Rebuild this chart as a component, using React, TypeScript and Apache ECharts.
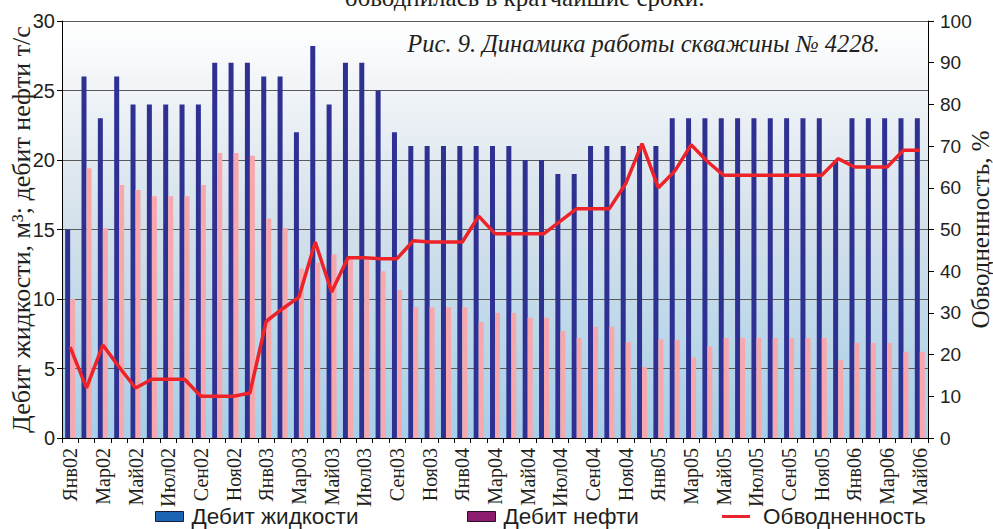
import React, { useEffect, useRef } from "react";
import * as echarts from "echarts";

const months: string[] = [
  "Янв02", "Фев02", "Мар02", "Апр02", "Май02", "Июн02", "Июл02", "Авг02", "Сен02", "Окт02", "Ноя02", "Дек02",
  "Янв03", "Фев03", "Мар03", "Апр03", "Май03", "Июн03", "Июл03", "Авг03", "Сен03", "Окт03", "Ноя03", "Дек03",
  "Янв04", "Фев04", "Мар04", "Апр04", "Май04", "Июн04", "Июл04", "Авг04", "Сен04", "Окт04", "Ноя04", "Дек04",
  "Янв05", "Фев05", "Мар05", "Апр05", "Май05", "Июн05", "Июл05", "Авг05", "Сен05", "Окт05", "Ноя05", "Дек05",
  "Янв06", "Фев06", "Мар06", "Апр06", "Май06",
];

const liquidRate: number[] = [
  15, 26, 23, 26, 24, 24, 24, 24, 24, 27, 27, 27,
  26, 26, 22, 28.2, 24, 27, 27, 25, 22, 21, 21, 21,
  21, 21, 21, 21, 20, 20, 19, 19, 21, 21, 21, 21,
  21, 23, 23, 23, 23, 23, 23, 23, 23, 23, 23, 20,
  23, 23, 23, 23, 23,
];

const oilRate: number[] = [
  10, 19.4, 15.1, 18.2, 17.85, 17.4, 17.4, 17.4, 18.2, 20.5, 20.5, 20.3,
  15.8, 15.1, 12.2, 12.6, 13.2, 13, 12.8, 12, 10.65, 9.4, 9.4, 9.4,
  9.4, 8.35, 9, 9, 8.65, 8.65, 7.7, 7.2, 8, 8, 6.9, 5.1,
  7.1, 7.05, 5.8, 6.6, 7.2, 7.2, 7.2, 7.2, 7.2, 7.2, 7.2, 5.6,
  6.85, 6.85, 6.85, 6.2, 6.2,
];

const waterCut: number[] = [
  21.8, 12, 22.3, 17, 12, 14.1, 14.1, 14.1, 10, 10, 10, 10.8,
  28, 31, 33.8, 47, 35, 43.2, 43.2, 43, 43, 47.3, 47, 47,
  47, 53.2, 49, 49, 49, 49, 52, 55, 55, 55, 61, 70.6,
  60, 64, 70.3, 66.3, 63, 63, 63, 63, 63, 63, 63, 67,
  65, 65, 65, 69, 69,
];

const seriesNames = ["Дебит жидкости", "Дебит нефти", "Обводненность"];
const leftAxisName = "Дебит жидкости, м³; дебит нефти т/с";
const rightAxisName = "Обводненность, %";
const titleText = "Рис. 9. Динамика работы скважины № 4228.";
const topText = "обводнилась в кратчайшие сроки.";

const SANS = '"Liberation Sans", Arial, sans-serif';
const SERIF = '"Liberation Serif", "Times New Roman", serif';
const TEXT = "#231f20";

export default function App() {
  const ref = useRef<HTMLDivElement>(null);

  useEffect(() => {
    if (!ref.current) return;
    const chart = echarts.init(ref.current, null, { renderer: "svg" });
    const legendBase = {
      top: 505,
      padding: 0,
      itemWidth: 28,
      itemHeight: 10,
      textStyle: { fontFamily: SANS, fontSize: 22.5, color: TEXT, padding: [0, 0, 0, 3] },
      selectedMode: false,
    };
    chart.setOption({
      animation: false,
      backgroundColor: "#ffffff",
      grid: {
        left: 62,
        right: 65,
        top: 21,
        bottom: 91,
        containLabel: false,
        outerBoundsMode: "none",
        show: true,
        borderWidth: 0,
        backgroundColor: new echarts.graphic.LinearGradient(0, 0, 0, 1, [
          { offset: 0, color: "#ffffff" },
          { offset: 0.15, color: "#f2f5f8" },
          { offset: 0.5, color: "#d3e0ea" },
          { offset: 1, color: "#a6cfe9" },
        ]),
      },
      graphic: [
        {
          type: "text",
          right: 113,
          top: 31,
          style: { text: titleText, font: `italic 24.5px ${SERIF}`, fill: TEXT },
        },
        {
          type: "text",
          left: 345,
          top: -15,
          style: { text: topText, font: `25px ${SERIF}`, fill: TEXT },
        },
      ],
      legend: [
        {
          ...legendBase,
          left: 155,
          data: [{ name: seriesNames[0], icon: "rect", itemStyle: { color: "#1d63b4", borderColor: "#1b1b3a", borderWidth: 1 } }],
        },
        {
          ...legendBase,
          left: 467,
          data: [{ name: seriesNames[1], icon: "rect", itemStyle: { color: "#8c1c6e", borderColor: "#2a1025", borderWidth: 1 } }],
        },
        {
          ...legendBase,
          left: 722,
          itemHeight: 3,
          textStyle: { ...legendBase.textStyle, padding: [0, 0, 0, 8] },
          data: [{ name: seriesNames[2], icon: "rect", itemStyle: { color: "#ee2229" } }],
        },
      ],
      xAxis: {
        type: "category",
        data: months,
        boundaryGap: true,
        axisLine: { lineStyle: { color: "#000", width: 1 } },
        axisTick: { show: true, interval: 0, length: 5, lineStyle: { color: "#000" } },
        axisLabel: {
          interval: 1,
          rotate: 90,
          margin: 10,
          fontFamily: SERIF,
          fontSize: 20,
          color: TEXT,
        },
        splitLine: { show: false },
      },
      yAxis: [
        {
          type: "value",
          min: 0,
          max: 30,
          interval: 5,
          position: "left",
          name: leftAxisName,
          nameLocation: "middle",
          nameGap: 28,
          nameMoveOverlap: false,
          nameTextStyle: { fontFamily: SERIF, fontSize: 26, color: TEXT },
          axisLine: { show: true, lineStyle: { color: "#000" } },
          axisTick: { show: true, length: 5, lineStyle: { color: "#000" } },
          axisLabel: { fontFamily: SANS, fontSize: 20, color: TEXT, margin: 7 },
          splitLine: { show: true, lineStyle: { color: "#5a5a5a", width: 1.2 } },
        },
        {
          type: "value",
          min: 0,
          max: 100,
          interval: 10,
          position: "right",
          name: rightAxisName,
          nameLocation: "middle",
          nameGap: 40,
          nameMoveOverlap: false,
          nameTextStyle: { fontFamily: SERIF, fontSize: 25, color: TEXT },
          axisLine: { show: true, lineStyle: { color: "#000" } },
          axisTick: { show: true, length: 6, lineStyle: { color: "#000" } },
          axisLabel: { fontFamily: SANS, fontSize: 19, color: TEXT, margin: 12 },
          splitLine: { show: false },
        },
      ],
      series: [
        {
          name: seriesNames[0],
          type: "bar",
          yAxisIndex: 0,
          data: liquidRate,
          barWidth: 5,
          barGap: "0%",
          itemStyle: { color: "#2e3192" },
        },
        {
          name: seriesNames[1],
          type: "bar",
          yAxisIndex: 0,
          data: oilRate,
          barWidth: 5,
          barGap: "0%",
          itemStyle: { color: "#f6a8ad" },
        },
        {
          name: seriesNames[2],
          type: "line",
          yAxisIndex: 1,
          data: waterCut,
          symbol: "none",
          lineStyle: { color: "#ee2229", width: 3.5 },
          itemStyle: { color: "#ee2229" },
          z: 5,
        },
      ],
    });
    return () => chart.dispose();
  }, []);

  return <div ref={ref} style={{ width: 993, height: 529, position: "fixed", left: 0, top: 0 }} />;
}
